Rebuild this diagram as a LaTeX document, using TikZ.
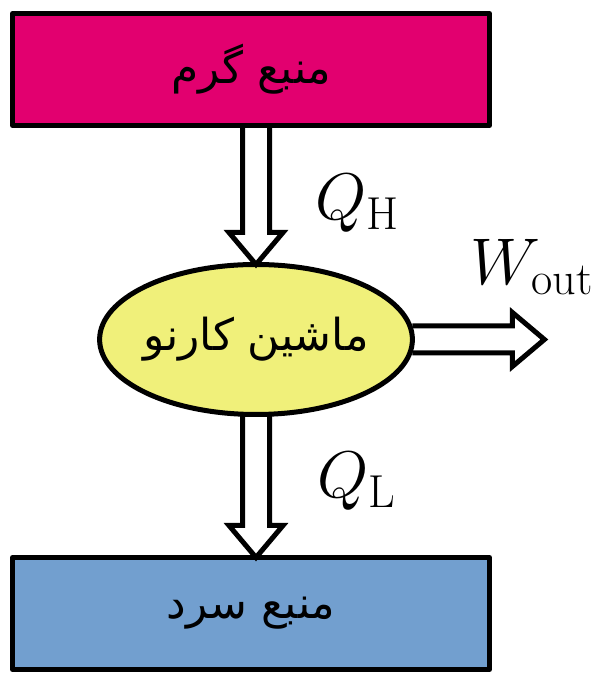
\documentclass[tikz,border=0pt]{standalone}
\usepackage{fix-cm}
\usepackage{fontspec}
\TeXXeTstate=1
\newfontfamily\persianfont[Script=Arabic]{DejaVu Sans}
\usetikzlibrary{positioning,calc,shapes.geometric}
\definecolor{hotcol}{HTML}{E2006F}
\definecolor{coldcol}{HTML}{729FCF}
\definecolor{engcol}{HTML}{F0F07A}
% hollow block arrow from #1 to #2
\newcommand{\fatarrow}[2]{%
  \coordinate (hb) at ($(#2)!16pt!(#1)$);
  \draw[fat] ($(#1)!6.75pt!90:(#2)$) -- ($(hb)!6.75pt!90:(#2)$) -- ($(hb)!13.5pt!90:(#2)$)
    -- (#2) -- ($(hb)!13.5pt!-90:(#2)$) -- ($(hb)!6.75pt!-90:(#2)$) -- ($(#1)!6.75pt!-90:(#2)$);}
\begin{document}
\begin{tikzpicture}[
  source/.style={draw, line width=2.5pt, line join=round, minimum width=238.5pt,
                 minimum height=56pt, outer sep=0pt, font=\persianfont\fontsize{22}{26}\selectfont},
  engine/.style={ellipse, draw, line width=2.5pt, fill=engcol, minimum width=153.5pt,
                 minimum height=75pt, inner xsep=-1pt, inner ysep=0pt, outer sep=0pt,
                 font=\persianfont\fontsize{22}{26}\selectfont},
  fat/.style={line width=2.5pt},
  lbl/.style={font=\fontsize{33}{40}\selectfont, inner sep=0pt, anchor=base west}]
\useasboundingbox (0,0) rectangle (301.5pt,336.5pt);
\node[source, fill=hotcol] (hot) at (125.5pt,301.75pt) {\beginR منبع گرم\endR};
\node[engine, below=69.5pt of hot, xshift=2.5pt] (eng) {\beginR ماشین کارنو\endR};
\node[source, fill=coldcol, below=71.5pt of eng, xshift=-2.5pt] (cold) {\beginR منبع سرد\endR};
\coordinate[right=66pt of eng.east] (wtip);
\coordinate (htop) at (eng.north |- hot.south);
\coordinate (cbot) at (eng.south |- cold.north);
% arrows
\fatarrow{htop}{eng.north}
\fatarrow{eng.south}{cbot}
\fatarrow{eng.east}{wtip}
% labels
\node[lbl] (qh) at (157.5pt,226.5pt) {$Q_{\mathrm{H}}$};
\node[lbl] (ql) at (158.5pt,87.5pt) {$Q_{\mathrm{L}}$};
\node[lbl] (wout) at (235pt,194pt) {$W_{\mathrm{out}}$};
\end{tikzpicture}
\end{document}
